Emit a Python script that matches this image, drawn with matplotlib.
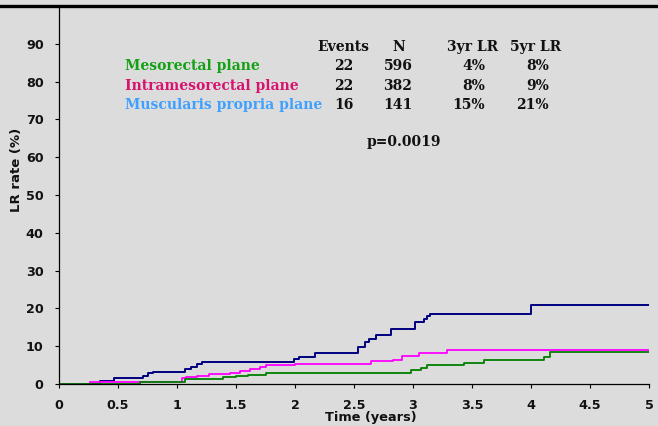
import matplotlib
matplotlib.use("Agg")
import matplotlib.pyplot as plt
from matplotlib.lines import Line2D

# Cumulative local recurrence (%) by plane of surgery
meso_t = [0, 0.69, 0.98, 1.07, 1.31, 1.39, 1.5, 1.6, 1.75, 1.96, 2.98, 3.07, 3.12, 3.43, 3.6, 4.11, 4.16, 5.0]
meso_v = [0, 0.4, 0.6, 1.2, 1.4, 1.8, 2.2, 2.5, 2.8, 3.0, 3.6, 4.2, 5.0, 5.6, 6.3, 7.2, 8.4, 8.4]

intra_t = [0, 0.26, 1.04, 1.08, 1.17, 1.27, 1.45, 1.53, 1.62, 1.70, 1.75, 2.0, 2.64, 2.83, 2.91, 3.05, 3.29, 5.0]
intra_v = [0, 0.5, 1.6, 1.9, 2.2, 2.6, 2.8, 3.5, 4.0, 4.6, 4.9, 5.3, 6.0, 6.4, 7.4, 8.1, 9.0, 9.0]

musc_t = [0, 0.35, 0.47, 0.71, 0.75, 0.80, 1.07, 1.12, 1.17, 1.21, 1.99, 2.03, 2.17,
          2.53, 2.59, 2.63, 2.69, 2.81, 3.02, 3.09, 3.12, 3.14, 4.0, 5.0]
musc_v = [0, 0.7, 1.5, 2.2, 2.8, 3.3, 4.1, 4.6, 5.2, 5.9, 6.6, 7.2, 8.3,
          9.7, 11.2, 12.0, 12.9, 14.5, 16.4, 17.3, 18.0, 18.4, 21.0, 21.0]

groups = ["Mesorectal plane", "Intramesorectal plane", "Muscularis propria plane"]
events = ["22", "22", "16"]
n_pts = ["596", "382", "141"]
lr_3yr = ["4%", "8%", "15%"]
lr_5yr = ["8%", "9%", "21%"]
p_value = "p=0.0019"

x_ticks = [0, 0.5, 1, 1.5, 2, 2.5, 3, 3.5, 4, 4.5, 5]
x_labels = ["0", "0.5", "1", "1.5", "2", "2.5", "3", "3.5", "4", "4.5", "5"]
y_ticks = [0, 10, 20, 30, 40, 50, 60, 70, 80, 90]

bg = "#dcdcdc"
W, H = 658, 426


def fx(px):
    return px / W


def fy(py):
    return 1 - py / H


fig = plt.figure(figsize=(6.58, 4.26), dpi=100, facecolor=bg)
ax = fig.add_axes([fx(59), fy(384), fx(649) - fx(59), fy(6) - fy(384)])
ax.set_facecolor(bg)

ax.step(musc_t, musc_v, where="post", color="#000080", lw=1.4)
ax.step(intra_t, intra_v, where="post", color="#ff00ff", lw=1.3)
ax.step(meso_t, meso_v, where="post", color="#008000", lw=1.3)

ax.set_xlim(0, 5)
ax.set_ylim(0, 100)
ax.set_xticks(x_ticks)
ax.set_xticklabels(x_labels)
ax.set_yticks(y_ticks)
ax.tick_params(direction="out", length=3, width=0.8, pad=8, labelsize=9.2)
for lab in ax.get_xticklabels() + ax.get_yticklabels():
    lab.set_fontweight("bold")
    lab.set_color("#111111")

for s in ["top", "right"]:
    ax.spines[s].set_visible(False)
for s in ["left", "bottom"]:
    ax.spines[s].set_linewidth(0.9)

# thick rule across the top
fig.add_artist(Line2D([0, 1], [fy(6), fy(6)], color="black", lw=2.4,
                      transform=fig.transFigure))

fig.text(fx(371), fy(418), "Time (years)", ha="center", va="center",
         fontsize=9.3, fontweight="bold", color="#111111")
fig.text(fx(17), fy(170), "LR rate (%)", ha="center", va="center",
         rotation=90, fontsize=9.5, fontweight="bold", color="#111111")

# summary table
tf = dict(family="DejaVu Serif", fontweight="bold", fontsize=10, va="center")
name_colors = ["#14a014", "#d6136f", "#3fa0ff"]
rows_y = [66, 86, 105]

fig.text(fx(343), fy(47), "Events", ha="center", color="#111111", **tf)
fig.text(fx(399), fy(47), "N", ha="center", color="#111111", **tf)
fig.text(fx(473), fy(47), "3yr LR", ha="center", color="#111111", **tf)
fig.text(fx(536), fy(47), "5yr LR", ha="center", color="#111111", **tf)

for i in range(3):
    y = fy(rows_y[i])
    fig.text(fx(125), y, groups[i], ha="left", color=name_colors[i], **tf)
    fig.text(fx(344), y, events[i], ha="center", color="#111111", **tf)
    fig.text(fx(398), y, n_pts[i], ha="center", color="#111111", **tf)
    fig.text(fx(485), y, lr_3yr[i], ha="right", color="#111111", **tf)
    fig.text(fx(549), y, lr_5yr[i], ha="right", color="#111111", **tf)

fig.text(fx(404), fy(142), p_value, ha="center", color="#111111", **tf)

fig.savefig("out.png", dpi=100, facecolor=bg)
